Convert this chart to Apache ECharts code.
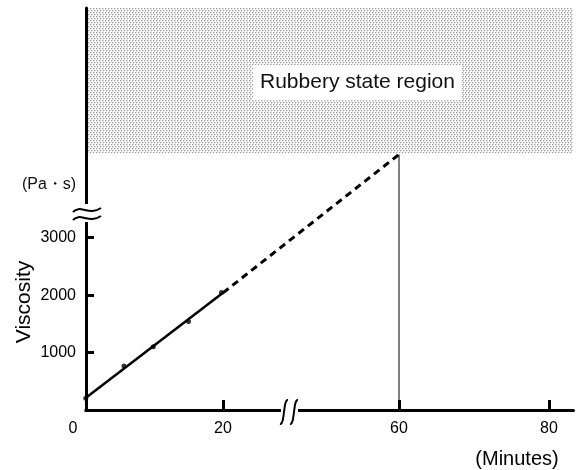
<!DOCTYPE html>
<html><head><meta charset="utf-8">
<script src="https://cdn.jsdelivr.net/npm/echarts@6/dist/echarts.min.js"></script>
<style>html,body{margin:0;padding:0;background:#fff}#c{width:579px;height:470px}</style>
</head><body><div id="c"></div>
<script>
// ---- data (minutes, Pa·s) ----
const pointTimes = [1.7, 6.8, 10.7, 15.4, 19.8];
const pointViscosity = [205, 765, 1100, 1540, 2045];
const fitSolidTimes = [1.9, 20];
const fitSolidViscosity = [232, 2040];
const fitDashedTimes = [20, 60];
const fitDashedViscosity = [2040, 4450];
const limitTimes = [60, 60];
const limitViscosity = [0, 4450];
const rubberyBottom = 4470;
const yTickValues = [1000, 2000, 3000];
const xLabelValues = [0, 20, 60, 80];
const xTickValues = [20, 60, 80];
const xMin = 0, xMax = 83.2, yMin = 0, yMax = 7000;
const xBreakStart = 27.6, xBreakEnd = 46.5, xBreakGap = 2.37;
const yAxisAtTime = 1.73;
const regionLabel = 'Rubbery state region';

const zip = (a, b) => a.map((v, i) => [v, b[i]]);

// stipple pattern
const pc = document.createElement('canvas');
pc.width = 6; pc.height = 4;
const g = pc.getContext('2d');
g.fillStyle = '#fff'; g.fillRect(0, 0, 6, 4);
[[0,0],[3,0],[1,2],[4,2]].forEach(([x,y]) => {
  g.fillStyle = '#dadada';
  g.fillRect(x + 1, y, 1, 1); g.fillRect(x, y + 1, 1, 1);
  g.fillStyle = '#9a9a9a';
  g.fillRect(x, y, 1, 1);
});

const chart = echarts.init(document.getElementById('c'), null, {renderer: 'canvas'});
const font = 'Liberation Sans, Arial, sans-serif';
chart.setOption({
  animation: false,
  backgroundColor: '#fff',
  grid: {left: 73, right: 6, top: 8, bottom: 60},
  xAxis: {
    type: 'value', min: xMin, max: xMax, z: 5,
    breaks: [{start: xBreakStart, end: xBreakEnd, gap: xBreakGap}],
    breakArea: {show: false},
    axisLine: {onZero: false, lineStyle: {color: '#000', width: 3}},
    axisTick: {show: true, customValues: xTickValues, inside: true, length: 10, lineStyle: {color: '#000', width: 3}},
    axisLabel: {customValues: xLabelValues, margin: 11, fontSize: 16, color: '#000', fontFamily: font,
      formatter: v => String(v)},
    splitLine: {show: false}
  },
  yAxis: {
    type: 'value', min: yMin, max: yMax, offset: -13, z: 5,
    axisLine: {show: true, onZero: false, lineStyle: {color: '#000', width: 3}},
    axisTick: {show: true, customValues: yTickValues, inside: true, length: 8, lineStyle: {color: '#000', width: 3}},
    axisLabel: {customValues: yTickValues, margin: 10, fontSize: 16, color: '#000', fontFamily: font,
      formatter: v => String(v)},
    splitLine: {show: false}
  },
  series: [
    {
      type: 'line', data: zip(limitTimes, limitViscosity), showSymbol: false, silent: true,
      lineStyle: {color: '#555', width: 1.5},
      markArea: {
        silent: true,
        itemStyle: {color: {image: pc, repeat: 'repeat'}},
        label: {
          show: true, position: 'inside', formatter: regionLabel, offset: [28, 2],
          fontSize: 21, lineHeight: 24, color: '#111', fontFamily: font,
          backgroundColor: '#fff', padding: [6, 7, 5, 7]
        },
        data: [[{coord: [yAxisAtTime, rubberyBottom]}, {coord: [xMax, yMax]}]]
      }
    },
    {type: 'line', data: zip(fitSolidTimes, fitSolidViscosity), showSymbol: false, silent: true,
      lineStyle: {color: '#000', width: 2.5}},
    {type: 'line', data: zip(fitDashedTimes, fitDashedViscosity), showSymbol: false, silent: true,
      lineStyle: {color: '#000', width: 3, type: [7, 5]}},
    {type: 'scatter', data: zip(pointTimes, pointViscosity), symbol: 'circle', symbolSize: 5,
      itemStyle: {color: '#000'}, silent: true}
  ],
  graphic: [
    {type: 'rect', z: 100, shape: {x: 66, y: 406, width: 18.5, height: 9}, style: {fill: '#fff'}},
    {type: 'rect', z: 100, shape: {x: 82, y: 204, width: 8, height: 18}, style: {fill: '#fff'}},
    {type: 'bezierCurve', z: 101, shape: {x1: 73, y1: 212, cpx1: 80, cpy1: 204, cpx2: 89, cpy2: 216, x2: 101, y2: 208},
      style: {stroke: '#000', lineWidth: 2, fill: null}},
    {type: 'bezierCurve', z: 101, shape: {x1: 73, y1: 220, cpx1: 80, cpy1: 212, cpx2: 89, cpy2: 224, x2: 101, y2: 216},
      style: {stroke: '#000', lineWidth: 2, fill: null}},
    {type: 'rect', z: 100, shape: {x: 281, y: 406, width: 17, height: 9}, style: {fill: '#fff'}},
    {type: 'bezierCurve', z: 101, shape: {x1: 288, y1: 400, cpx1: 283, cpy1: 399, cpx2: 285, cpy2: 425, x2: 280, y2: 424},
      style: {stroke: '#000', lineWidth: 2, fill: null}},
    {type: 'bezierCurve', z: 101, shape: {x1: 298, y1: 400, cpx1: 293, cpy1: 399, cpx2: 295, cpy2: 425, x2: 290, y2: 424},
      style: {stroke: '#000', lineWidth: 2, fill: null}},
    {type: 'text', z: 101, x: 49, y: 185, style: {text: '(Pa・s)', fontSize: 16, fontFamily: font, fill: '#111', align: 'center', verticalAlign: 'middle'}},
    {type: 'text', z: 101, x: 24, y: 302, rotation: Math.PI / 2, style: {text: 'Viscosity', fontSize: 21, fontFamily: font, fill: '#000', align: 'center', verticalAlign: 'middle'}},
    {type: 'text', z: 101, x: 517, y: 459, style: {text: '(Minutes)', fontSize: 20, fontFamily: font, fill: '#000', align: 'center', verticalAlign: 'middle'}}
  ]
});
</script></body></html>
